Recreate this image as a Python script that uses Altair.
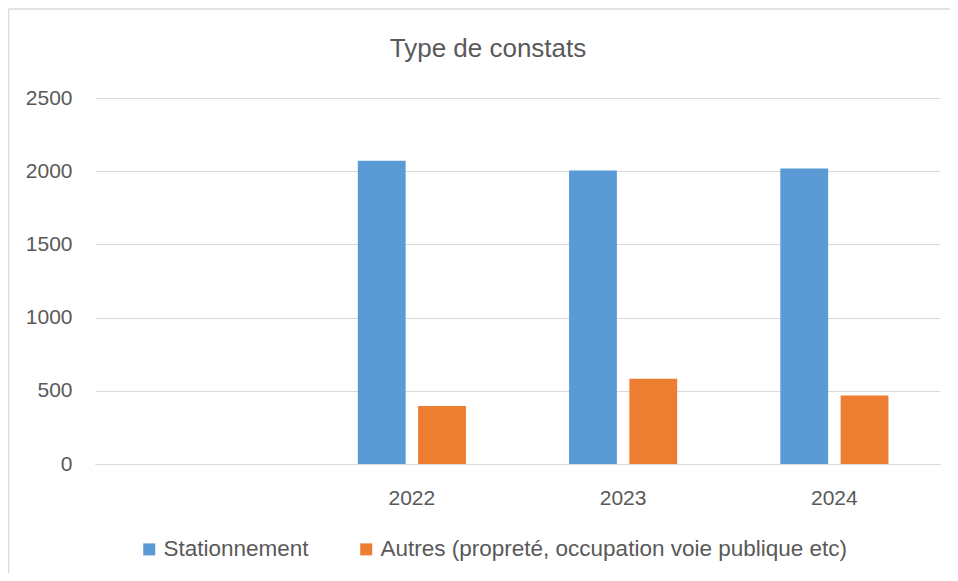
import altair as alt
import pandas as pd

title_text = "Type de constats"
categories = [" ", "2022", "2023", "2024"]
years = ["2022", "2023", "2024"]
series_names = ["Stationnement", "Autres (propreté, occupation voie publique etc)"]
stationnement = [2071, 2005, 2018]
autres = [397, 583, 468]
colors = ["#5B9BD5", "#ED7D31"]
y_ticks = [0, 500, 1000, 1500, 2000, 2500]

rows = []
for y, v in zip(years, stationnement):
    rows.append({"year": y, "series": series_names[0], "value": v})
for y, v in zip(years, autres):
    rows.append({"year": y, "series": series_names[1], "value": v})
df = pd.DataFrame(rows)

FONT = "Liberation Sans"
TXT = "#595959"
GRID = "#D9D9D9"

bars = alt.Chart(df).mark_bar().encode(
    x=alt.X("year:N", scale=alt.Scale(domain=categories, paddingInner=0, paddingOuter=0),
            axis=alt.Axis(title=None, labelAngle=0, ticks=False, domainColor=GRID, domainWidth=1,
                          labelFontSize=21, labelColor=TXT, labelFont=FONT, labelPadding=23,
                          labelBaseline="top", grid=False)),
    xOffset=alt.XOffset("series:N", scale=alt.Scale(domain=series_names, paddingInner=0.207, paddingOuter=0.855)),
    y=alt.Y("value:Q", scale=alt.Scale(domain=[0, 2500], nice=False),
            axis=alt.Axis(title=None, values=y_ticks, format="d", ticks=False, domain=False,
                          gridColor=GRID, gridWidth=1, labelFontSize=21, labelColor=TXT,
                          labelFont=FONT, labelPadding=23)),
    color=alt.Color("series:N", scale=alt.Scale(domain=series_names, range=colors),
                    legend=alt.Legend(title=None, orient="none", legendX=43, legendY=440,
                                      direction="horizontal", symbolType="square", symbolSize=144,
                                      symbolStrokeWidth=0, labelFontSize=22.5, labelColor=TXT,
                                      labelFont=FONT, labelOffset=3, columnPadding=46, padding=0,
                                      labelLimit=800)),
)

frame_df = pd.DataFrame({"a": [0]})
top_line = alt.Chart(frame_df).mark_rule(color=GRID, strokeWidth=1.5).encode(
    x=alt.value(-86.5), x2=alt.value(870), y=alt.value(-89))
left_line = alt.Chart(frame_df).mark_rule(color=GRID, strokeWidth=1.5).encode(
    x=alt.value(-86.5), y=alt.value(-89), y2=alt.value(480))

title = alt.Chart(pd.DataFrame({"t": [title_text]})).mark_text(
    font=FONT, fontSize=26, color=TXT, align="center", baseline="alphabetic"
).encode(text="t:N", x=alt.value(393), y=alt.value(-41))

chart = alt.layer(top_line, left_line, title, bars).properties(
    width=845, height=366,
    autosize=alt.AutoSizeParams(type="none"),
    padding={"left": 87, "top": 90, "right": 10, "bottom": 109},
).configure_view(stroke=None)

chart.save("out.html", embed_options={"renderer": "svg", "actions": False})
